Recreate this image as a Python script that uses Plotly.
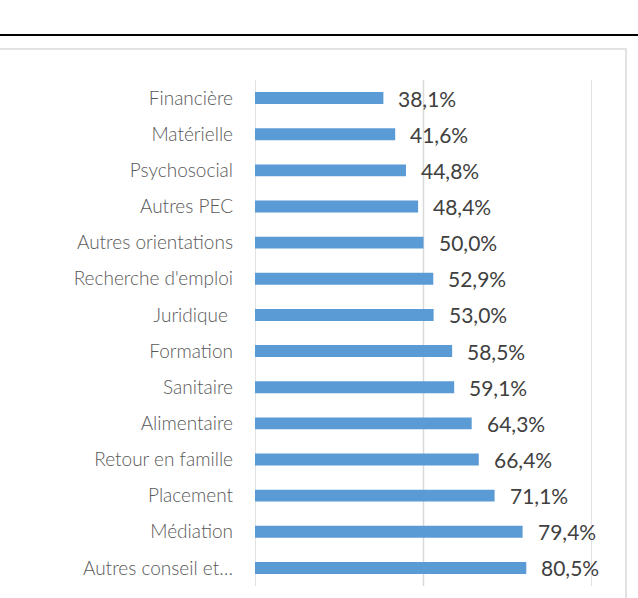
import plotly.graph_objects as go

categories = ["Financière", "Matérielle", "Psychosocial", "Autres PEC", "Autres orientations",
              "Recherche d'emploi", "Juridique\u00a0", "Formation", "Sanitaire", "Alimentaire",
              "Retour en famille", "Placement", "Médiation", "Autres conseil et…"]
values = [0.381, 0.416, 0.448, 0.484, 0.500, 0.529, 0.530, 0.585, 0.591, 0.643,
          0.664, 0.711, 0.794, 0.805]
value_labels = ["38,1%", "41,6%", "44,8%", "48,4%", "50,0%", "52,9%", "53,0%", "58,5%",
                "59,1%", "64,3%", "66,4%", "71,1%", "79,4%", "80,5%"]
grid_values = [0, 0.5, 1]

W, H = 638, 598
L, R, T, B = 255, 46, 80, 12
pw, ph = W - L - R, H - T - B

fig = go.Figure()
fig.add_trace(go.Bar(
    x=values, y=categories, orientation="h",
    marker=dict(color="#5B9BD5", line=dict(width=0)),
    hoverinfo="skip",
))

for v, c, t in zip(values, categories, value_labels):
    fig.add_annotation(x=v, y=c, text=t, showarrow=False, xanchor="left", yanchor="middle",
                       xshift=13, yshift=0,
                       font=dict(family="Lato, Carlito, sans-serif", size=21, color="#404040"))

def px(xp):
    return (xp - L) / pw

def py(yp):
    return (H - B - yp) / ph

# vertical gridlines (drawn as shapes so the edge lines show)
for g in grid_values:
    fig.add_shape(type="line", xref="x", yref="paper", x0=g, x1=g, y0=0, y1=1,
                  line=dict(color="#D9D9D9", width=1.5), layer="below")

# chart border (light gray)
fig.add_shape(type="rect", xref="paper", yref="paper",
              x0=px(-5), x1=px(626), y0=py(610), y1=py(49),
              line=dict(color="#D9D9D9", width=1.5), fillcolor="rgba(0,0,0,0)", layer="below")
# black separator line
fig.add_shape(type="line", xref="paper", yref="paper",
              x0=px(-5), x1=px(645), y0=py(35), y1=py(35),
              line=dict(color="#000000", width=2))

fig.update_layout(
    width=W, height=H,
    margin=dict(l=L, r=R, t=T, b=B, pad=0),
    paper_bgcolor="white", plot_bgcolor="white",
    showlegend=False,
    bargap=0.67,
    xaxis=dict(range=[0, 1], showticklabels=False, showgrid=False,
               zeroline=False, showline=False, fixedrange=True),
    yaxis=dict(categoryorder="array", categoryarray=categories, autorange="reversed",
               showgrid=False, zeroline=False, showline=False, ticks="",
               ticklabelstandoff=21, fixedrange=True,
               tickfont=dict(family="Lato, Carlito, sans-serif", size=19, color="#595959",
                             weight=300)),
)

fig.write_html("out.html", config={"displayModeBar": False, "staticPlot": True},
               post_script="document.body.style.margin='0';document.body.style.padding='0';")
